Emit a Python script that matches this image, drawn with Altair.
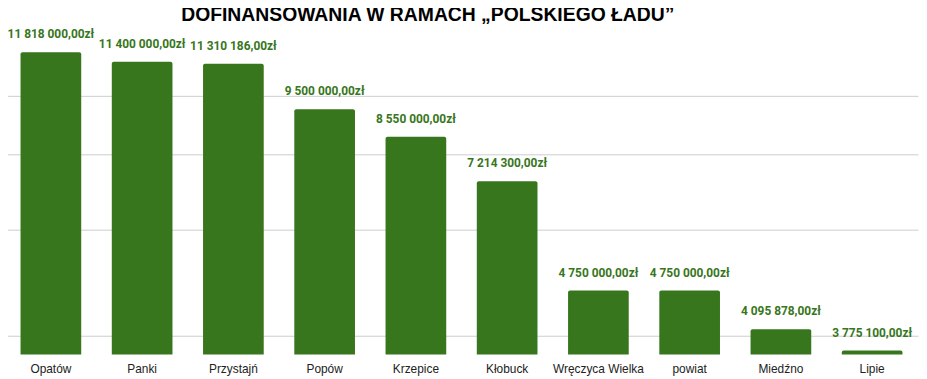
import altair as alt
import pandas as pd

categories = ["Opatów", "Panki", "Przystajń", "Popów", "Krzepice", "Kłobuck",
              "Wręczyca Wielka", "powiat", "Miedźno", "Lipie"]
values = [11818000, 11400000, 11310186, 9500000, 8550000, 7214300,
          4750000, 4750000, 4095878, 3775100]
labels = ["11 818 000,00zł", "11 400 000,00zł", "11 310 186,00zł", "9 500 000,00zł",
          "8 550 000,00zł", "7 214 300,00zł", "4 750 000,00zł", "4 750 000,00zł",
          "4 095 878,00zł", "3 775 100,00zł"]
grid_values = [4000000, 6000000, 8000000, 10000000]
y_min = 3716000
y_max = 12000000

df = pd.DataFrame({"gmina": categories, "kwota": values, "etykieta": labels})

GREEN = "#38761d"

x = alt.X("gmina:N", sort=None, title=None,
          scale=alt.Scale(paddingInner=0.335, paddingOuter=0.17),
          axis=alt.Axis(labelAngle=0, ticks=False, domain=False, labelPadding=9,
                        labelFont="Liberation Sans", labelFontSize=12,
                        labelColor="#222222", grid=False))
y = alt.Y("kwota:Q", title=None,
          scale=alt.Scale(type="log", domain=[y_min, y_max], nice=False),
          axis=alt.Axis(values=grid_values, labels=False, ticks=False, domain=False,
                        grid=True, gridColor="#cccccc", gridWidth=1))

bars = alt.Chart(df).mark_bar(color=GREEN, cornerRadiusTopLeft=2,
                              cornerRadiusTopRight=2).encode(
    x=x, y=y, y2=alt.datum(y_min))

text = alt.Chart(df).mark_text(color=GREEN, font="Roboto", fontWeight="bold",
                               fontSize=12, baseline="middle", dy=-18,
                               clip=False).encode(
    x=alt.X("gmina:N", sort=None),
    y=alt.Y("kwota:Q"),
    text="etykieta:N")

chart = (bars + text).properties(
    width=921, height=309,
    autosize=alt.AutoSizeParams(type="none"),
    padding={"left": -3, "right": 1, "top": 39, "bottom": 23},
    title=alt.TitleParams("DOFINANSOWANIA W RAMACH „POLSKIEGO ŁADU”",
                          font="Liberation Sans", fontSize=19.5, fontWeight="bold",
                          color="#000000", anchor="middle", dx=-34, dy=13, offset=1,
                          baseline="alphabetic", frame="group"),
).configure_view(stroke=None)

chart.save("out.html", embed_options={"renderer": "svg", "actions": False})
